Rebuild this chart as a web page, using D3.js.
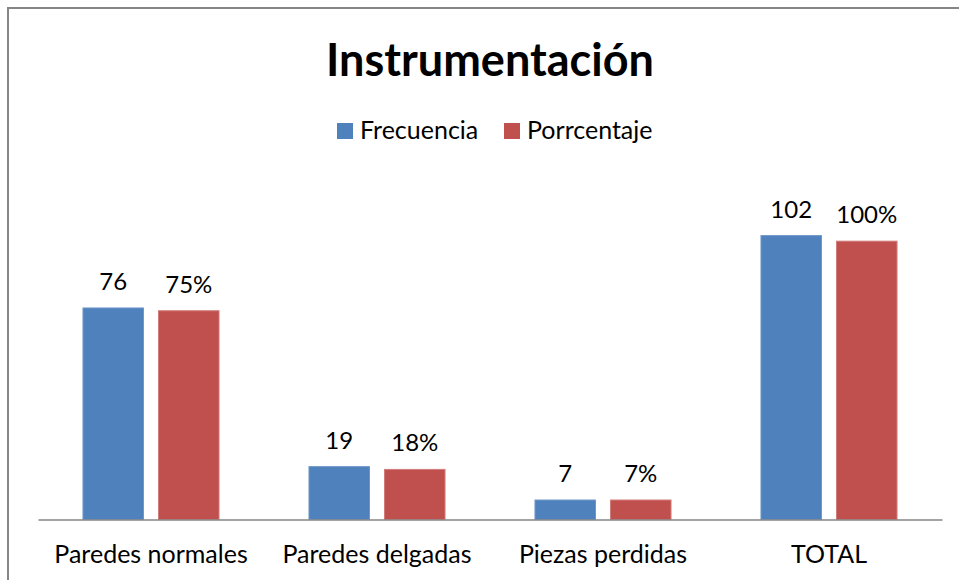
<!DOCTYPE html>
<meta charset="utf-8">
<script src="https://d3js.org/d3.v7.min.js"></script>
<style>
  body { margin: 0; background: #fff; }
  text { font-family: Lato, "Open Sans", sans-serif; fill: #000; }
</style>
<svg id="chart" width="959" height="580"></svg>
<script>
// data
var categories = ["Paredes normales", "Paredes delgadas", "Piezas perdidas", "TOTAL"];
var seriesNames = ["Frecuencia", "Porrcentaje"];
var frecuencia = [76, 19, 7, 102];
var porcentaje = [75, 18, 7, 100];
var porcentajeLabels = ["75%", "18%", "7%", "100%"];
var colors = ["#4F81BD", "#C0504D"];
var strokes = ["#6f97c9", "#d27c7a"];

var svg = d3.select("#chart");

// outer frame (only left and top visible, rest runs off the picture)
svg.append("rect")
    .attr("x", 8).attr("y", 8)
    .attr("width", 1000).attr("height", 1000)
    .attr("fill", "#fff")
    .attr("stroke", "#868686")
    .attr("stroke-width", 2);

// scales
var x = d3.scaleBand()
    .domain(categories)
    .range([38, 942])
    .paddingInner(0.398)
    .paddingOuter(0.199);

var xSub = d3.scaleBand()
    .domain(seriesNames)
    .range([0, x.bandwidth()])
    .paddingInner(0.199);

var y = d3.scaleLinear()
    .domain([0, 120])
    .range([519.5, 185.5]);

var rows = categories.map(function(c, i) {
  return {cat: c, values: [
    {s: seriesNames[0], v: frecuencia[i], label: String(frecuencia[i]), k: 0},
    {s: seriesNames[1], v: porcentaje[i], label: porcentajeLabels[i], k: 1}
  ]};
});

var groups = svg.append("g").selectAll("g")
    .data(rows)
    .enter().append("g")
      .attr("transform", function(d) { return "translate(" + x(d.cat) + ",0)"; });

groups.selectAll("rect")
    .data(function(d) { return d.values; })
    .enter().append("rect")
      .attr("x", function(d) { return xSub(d.s); })
      .attr("y", function(d) { return y(d.v); })
      .attr("width", xSub.bandwidth())
      .attr("height", function(d) { return y(0) - y(d.v); })
      .attr("fill", function(d) { return colors[d.k]; })
      .attr("stroke", function(d) { return strokes[d.k]; })
      .attr("stroke-width", 1);

// value labels
groups.selectAll("text")
    .data(function(d) { return d.values; })
    .enter().append("text")
      .attr("x", function(d) { return xSub(d.s) + xSub.bandwidth() / 2; })
      .attr("y", function(d) { return y(d.v) - 18; })
      .attr("text-anchor", "middle")
      .style("font-size", "24px")
      .text(function(d) { return d.label; });

// category axis
var xAxis = svg.append("g")
    .attr("transform", "translate(0," + y(0) + ")")
    .call(d3.axisBottom(x).tickSize(0).tickPadding(0));
xAxis.select(".domain").attr("stroke", "#868686").attr("stroke-width", 1.5);
xAxis.selectAll("text")
    .attr("dy", 0)
    .attr("y", 43)
    .style("font-family", "Lato, sans-serif")
    .style("font-size", "25px")
    .attr("fill", "#000");

// title
svg.append("text")
    .attr("x", 490)
    .attr("y", 76)
    .attr("text-anchor", "middle")
    .style("font-size", "45px")
    .style("font-weight", "bold")
    .text("Instrumentación");

// legend
var legendX = [337, 504];
var legend = svg.append("g").selectAll("g")
    .data(seriesNames)
    .enter().append("g")
      .attr("transform", function(d, i) { return "translate(" + legendX[i] + ",123)"; });
legend.append("rect")
    .attr("width", 16).attr("height", 16)
    .attr("fill", function(d, i) { return colors[i]; });
legend.append("text")
    .attr("x", 23)
    .attr("y", 16)
    .style("font-size", "25px")
    .text(function(d) { return d; });
</script>
